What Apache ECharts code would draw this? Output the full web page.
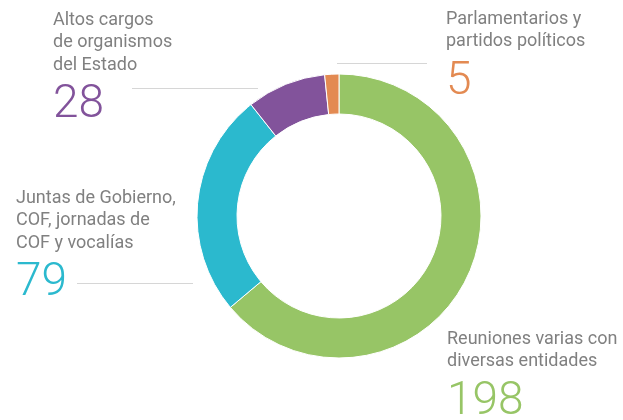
<!DOCTYPE html>
<html><head><meta charset="utf-8">
<script src="https://cdn.jsdelivr.net/npm/echarts@6/dist/echarts.min.js"></script>
<style>html,body{margin:0;padding:0;background:#fff}#c{width:623px;height:420px}</style>
</head><body><div id="c"></div>
<script>
const categories = ['Reuniones varias con\ndiversas entidades', 'Juntas de Gobierno,\nCOF, jornadas de\nCOF y vocalías', 'Altos cargos\nde organismos\ndel Estado', 'Parlamentarios y\npartidos políticos'];
const values = [198, 79, 28, 5];
const colors = ['#97c566', '#2bb9ce', '#82539b', '#e38a52'];
const labelPos = [[447, 328], [16, 187], [53, 9], [446, 8]];

const chart = echarts.init(document.getElementById('c'));
chart.setOption({
  animation: false,
  graphic: [
    {type: 'line', shape: {x1: 132, y1: 88.5, x2: 258, y2: 88.5}, style: {stroke: '#d6d6d6', lineWidth: 1}},
    {type: 'line', shape: {x1: 337, y1: 63.5, x2: 427, y2: 63.5}, style: {stroke: '#d6d6d6', lineWidth: 1}},
    {type: 'line', shape: {x1: 77, y1: 283.5, x2: 193, y2: 283.5}, style: {stroke: '#d6d6d6', lineWidth: 1}}
  ],
  series: [{
    type: 'pie',
    center: [339, 216],
    radius: [102, 142],
    startAngle: 90,
    clockwise: true,
    itemStyle: {borderColor: '#fff', borderWidth: 1},
    labelLine: {show: false},
    label: {
      show: true,
      position: 'outside',
      overflow: 'none',
      formatter: p => '{n|' + p.name.split('\n').join('}\n{n|') + '}\n{v|' + p.value + '}',
      rich: {
        n: {fontFamily: 'Roboto', fontSize: 18, lineHeight: 22.5, color: '#808080'},
        v: {fontFamily: 'Roboto', fontSize: 46, lineHeight: 58, fontWeight: 300}
      }
    },
    labelLayout: p => ({x: labelPos[p.dataIndex][0], y: labelPos[p.dataIndex][1], align: 'left', verticalAlign: 'top', hideOverlap: false, width: 200}),
    data: categories.map((c, i) => ({
      name: c, value: values[i],
      itemStyle: {color: colors[i]},
      label: {rich: {v: {color: colors[i]}}}
    }))
  }]
});
</script></body></html>
